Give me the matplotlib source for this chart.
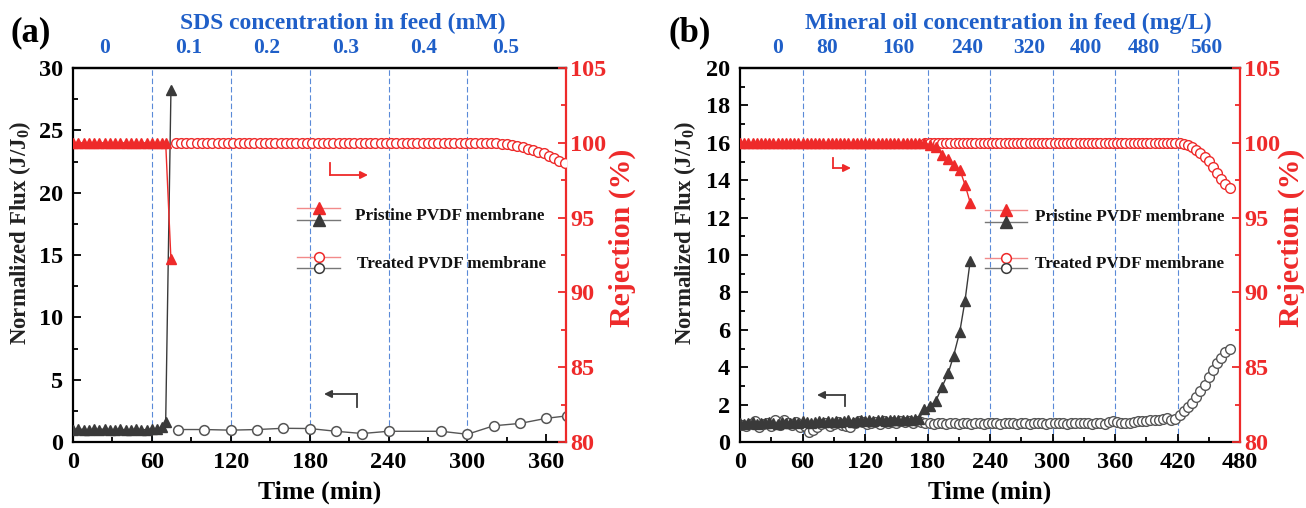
import numpy as np
import matplotlib
matplotlib.use('Agg')
import matplotlib.pyplot as plt
from matplotlib.lines import Line2D
from matplotlib.patches import FancyArrowPatch
from matplotlib.ticker import MultipleLocator

plt.rcParams['font.family'] = ['Liberation Serif', 'DejaVu Serif']
plt.rcParams['font.weight'] = 'bold'
plt.rcParams['mathtext.fontset'] = 'custom'
plt.rcParams['mathtext.rm'] = 'Liberation Serif:bold'
plt.rcParams['mathtext.bf'] = 'Liberation Serif:bold'
plt.rcParams['mathtext.it'] = 'Liberation Serif:bold'

# ---------------- data : panel (a) SDS ----------------
a_pristine_time = [0, 4, 8, 12, 16, 20, 24, 28, 32, 36, 40, 44, 48, 52, 56, 60, 64, 68, 70.5, 74.5]
a_pristine_flux = [1.0, 1.05, 1.0, 0.97, 1.02, 1.0, 1.04, 0.98, 1.0, 1.03, 0.97, 1.0, 1.02, 0.98, 1.0,
                   1.03, 1.05, 1.2, 1.6, 28.2]
a_pristine_rej = [100, 100, 100, 100, 100, 100, 100, 100, 100, 100, 100, 100, 100, 100, 100,
                  100, 100, 100, 100, 92.2]
a_treated_flux_time = [80, 100, 120, 140, 160, 180, 200, 220, 240, 280, 300, 320, 340, 360, 376]
a_treated_flux = [1.0, 1.0, 0.95, 1.0, 1.1, 1.08, 0.86, 0.68, 0.86, 0.86, 0.62, 1.3, 1.49, 1.9, 2.1]
a_treated_rej_time = np.arange(78, 375, 4)
a_treated_rej = [100, 100, 100, 100, 100, 100, 100, 100, 100, 100,
                 100, 100, 100, 100, 100, 100, 100, 100, 100, 100,
                 100, 100, 100, 100, 100, 100, 100, 100, 100, 100,
                 100, 100, 100, 100, 100, 100, 100, 100, 100, 100,
                 100, 100, 100, 100, 100, 100, 100, 100, 100, 100,
                 100, 100, 100, 100, 100, 100, 100, 100, 100, 100, 100,
                 100.0, 99.95, 99.9, 99.85, 99.8, 99.7, 99.6, 99.5, 99.4, 99.3, 99.15, 99.0, 98.8, 98.65]
a_top_labels = ['0', '0.1', '0.2', '0.3', '0.4', '0.5']
a_top_pos = [24, 88, 147, 207, 267, 329]
a_dash_lines = [60, 120, 180, 240, 300]
a_xticks = [0, 60, 120, 180, 240, 300, 360]

# ---------------- data : panel (b) mineral oil ----------------
b_pristine_time = [0, 4, 8, 12, 16, 20, 24, 28, 32, 36, 40, 44, 48, 52, 56, 60, 64, 68, 72, 76,
                   80, 84, 88, 92, 96, 100, 104, 108, 112, 116, 120, 124, 128, 132, 136, 140, 144,
                   148, 152, 156, 160, 164, 168, 172,
                   177, 182, 188, 194, 200, 205, 211, 216, 221]
b_pristine_flux = [1.0, 0.95, 1.0, 1.05, 0.95, 1.0, 1.0, 1.05, 1.0, 0.95, 1.05, 1.0, 1.0, 1.05, 1.0,
                   1.1, 1.05, 1.0, 1.05, 1.1, 1.05, 1.1, 1.05, 1.1, 1.05, 1.1, 1.15, 1.05, 1.1, 1.15,
                   1.1, 1.2, 1.1, 1.15, 1.2, 1.1, 1.2, 1.15, 1.2, 1.15, 1.2, 1.2, 1.25, 1.25,
                   1.75, 1.9, 2.2, 2.95, 3.7, 4.6, 5.9, 7.55, 9.7]
b_pristine_rej = [100, 100, 100, 100, 100, 100, 100, 100, 100, 100, 100, 100, 100, 100, 100,
                  100, 100, 100, 100, 100, 100, 100, 100, 100, 100, 100, 100, 100, 100, 100,
                  100, 100, 100, 100, 100, 100, 100, 100, 100, 100, 100, 100, 100, 100,
                  100, 99.85, 99.7, 99.2, 98.9, 98.5, 98.2, 97.2, 96.0]
b_treated_flux_time = np.arange(2, 471, 4)
b_treated_flux = [0.9, 0.85, 0.95, 1.1, 0.8, 0.95, 1.0, 0.85, 1.15, 0.9,
                  1.2, 1.0, 0.9, 1.05, 0.8, 0.85, 0.55, 0.65, 0.8, 0.95,
                  1.0, 0.85, 0.95, 1.05, 0.9, 0.85, 0.8, 1.0, 1.1, 1.05,
                  0.95, 1.0, 1.05, 0.95, 1.1, 1.0, 1.05, 1.0, 1.1, 1.05,
                  1.1, 1.0, 1.1,
                  1.05, 1.0, 1.0, 0.98, 1.0, 1.02, 0.98, 1.0, 1.0, 0.97,
                  1.0, 1.02, 0.98, 1.0, 1.0, 0.97, 1.0, 1.02, 1.0, 0.98,
                  1.0, 1.0, 1.02, 0.98, 1.0, 1.0, 0.97, 1.0, 1.02, 1.0,
                  0.98, 1.0, 1.0, 1.03, 1.0, 0.98, 1.0, 1.0, 1.02, 1.0,
                  1.0, 0.98, 1.0, 1.02,
                  0.98, 1.05, 1.12, 1.05, 1.0, 1.02, 1.0, 1.05, 1.1, 1.12,
                  1.1, 1.15, 1.2,
                  1.15, 1.25, 1.3, 1.15, 1.25, 1.45, 1.65, 1.85, 2.1, 2.4,
                  2.75, 3.05, 3.45, 3.85, 4.2, 4.5, 4.8, 5.0]
b_treated_rej_time = np.arange(178, 471, 4)
b_treated_rej = [100, 100, 100, 100, 100, 100, 100, 100, 100, 100,
                 100, 100, 100, 100, 100, 100, 100, 100, 100, 100,
                 100, 100, 100, 100, 100, 100, 100, 100, 100, 100,
                 100, 100, 100, 100, 100, 100, 100, 100, 100, 100,
                 100, 100, 100, 100, 100, 100, 100, 100, 100, 100,
                 100, 100, 100, 100, 100, 100, 100, 100, 100, 100, 100,
                 100, 99.95, 99.85, 99.75, 99.55, 99.35, 99.05, 98.75, 98.35, 97.95, 97.55, 97.25, 97.0]
b_top_labels = ['0', '80', '160', '240', '320', '400', '480', '560']
b_top_pos = [36, 84, 152, 218, 278, 332, 388, 448]
b_dash_lines = [60, 120, 180, 240, 300, 360, 420]
b_xticks = [0, 60, 120, 180, 240, 300, 360, 420, 480]

# ---------------- styling ----------------
W, H = 1306, 508
RED = '#ee2a2a'
RED_LIGHT = '#f28a8a'
BLUE = '#1f5fc8'
DASH = '#5a8ad8'
DARK = '#3a3a3a'
GREY = '#555555'
GREY_LIGHT = '#777777'

fig = plt.figure(figsize=(W / 100, H / 100), dpi=100)


def fx(x):
    return x / W


def fy(y):
    return 1 - y / H


def setup_panel(rect, xlim, xticks, ylim_left, left_major, left_minor, dash_lines,
                top_pos, top_labels, title, title_x, panel_label, label_x, ylab_x, rej_x):
    ax = fig.add_axes(rect)
    ax2 = ax.twinx()
    ax.set_xlim(*xlim)
    ax.set_ylim(*ylim_left)
    ax2.set_ylim(80, 105)
    ax.set_xticks(xticks)
    ax.xaxis.set_minor_locator(MultipleLocator(30))
    ax.yaxis.set_major_locator(MultipleLocator(left_major))
    ax.yaxis.set_minor_locator(MultipleLocator(left_minor))
    ax2.yaxis.set_major_locator(MultipleLocator(5))
    ax2.yaxis.set_minor_locator(MultipleLocator(2.5))
    for s in ['left', 'bottom', 'top']:
        ax.spines[s].set_color('black')
        ax.spines[s].set_linewidth(1.6)
    ax.spines['right'].set_visible(False)
    for s in ['left', 'bottom', 'top']:
        ax2.spines[s].set_visible(False)
    ax2.spines['right'].set_color(RED)
    ax2.spines['right'].set_linewidth(1.6)
    ax.tick_params(which='both', direction='in', top=False, right=False,
                   labelsize=17.5, width=1.3, pad=7, colors='black')
    ax.tick_params(which='major', length=6)
    ax.tick_params(which='minor', length=3.5)
    ax2.tick_params(which='both', direction='in', colors=RED, labelsize=17.5, width=1.3, pad=3)
    ax2.tick_params(which='major', length=6)
    ax2.tick_params(which='minor', length=3.5)
    for lab in ax.get_xticklabels() + ax.get_yticklabels() + ax2.get_yticklabels():
        lab.set_fontweight('bold')
    for xv in dash_lines:
        ax.axvline(xv, color=DASH, lw=0.8, ls=(0, (5, 2.5)), zorder=1)
    sec = ax.secondary_xaxis('top')
    sec.set_xticks(top_pos)
    sec.set_xticklabels(top_labels)
    sec.tick_params(length=0, colors=BLUE, labelsize=15.5, pad=7)
    sec.spines['top'].set_linewidth(1.6)
    for lab in sec.get_xticklabels():
        lab.set_fontweight('bold')
        lab.set_color(BLUE)
    ax.set_xlabel('Time (min)', fontsize=18.5, fontweight='bold', labelpad=6)
    ax.set_ylabel(r'Normalized Flux (J/J$_{\mathrm{0}}$)', fontsize=16.5, fontweight='bold',
                  color='#222222')
    ax.yaxis.set_label_coords(ylab_x, 0.56)
    ax2.set_ylabel('Rejection (%)', fontsize=21.5, fontweight='bold', color=RED, rotation=90)
    ax2.yaxis.set_label_coords(rej_x, 0.545)
    fig.text(fx(title_x), fy(23), title, color=BLUE, fontsize=17, fontweight='bold',
             ha='center', va='center')
    fig.text(fx(label_x), fy(33), panel_label, color='black', fontsize=25, fontweight='bold',
             ha='left', va='center')
    return ax, ax2


def stacked_legend(x0, x1, y_red, y_blk, tx, ty, marker, filled, label):
    xm = (x0 + x1) / 2
    for y, lc, mc in ((y_red, RED_LIGHT, RED), (y_blk, GREY_LIGHT, DARK)):
        fig.add_artist(Line2D([fx(x0), fx(x1)], [fy(y), fy(y)], color=lc, lw=1.0,
                              transform=fig.transFigure))
        if filled:
            fig.add_artist(Line2D([fx(xm)], [fy(y)], marker=marker, ms=8, color=mc, mec=mc,
                                  ls='none', transform=fig.transFigure))
        else:
            fig.add_artist(Line2D([fx(xm)], [fy(y)], marker=marker, ms=7, mfc='white', mec=mc,
                                  mew=1.1, ls='none', transform=fig.transFigure))
    fig.text(fx(tx), fy(ty), label, fontsize=12.3, fontweight='bold', ha='left', va='center',
             color='#111111')


def bent_arrow(xv, y_start, y_corner, x_end, color):
    fig.add_artist(Line2D([fx(xv), fx(xv)], [fy(y_start), fy(y_corner)], color=color, lw=1.3,
                          transform=fig.transFigure))
    fig.add_artist(FancyArrowPatch((fx(xv), fy(y_corner)), (fx(x_end), fy(y_corner)),
                                   transform=fig.transFigure, arrowstyle='-|>',
                                   mutation_scale=11, color=color, lw=1.3,
                                   shrinkA=0, shrinkB=0))


# ---------------- panel (a) ----------------
axa, axa2 = setup_panel([fx(73), fy(442), 493 / W, 374 / H], (0, 375), a_xticks, (0, 30), 5, 2.5,
                        a_dash_lines, a_top_pos, a_top_labels,
                        'SDS concentration in feed (mM)', 343, '(a)', 10, -0.081, 1.087)
axa.plot(a_treated_flux_time, a_treated_flux, color=GREY, lw=1.0, marker='o', ms=7,
         mfc='white', mec=GREY, mew=1.1, zorder=3)
axa.plot(a_pristine_time, a_pristine_flux, color=DARK, lw=1.0, marker='^', ms=7.5,
         mfc=DARK, mec=DARK, zorder=4)
axa2.plot(a_treated_rej_time, a_treated_rej, color=RED_LIGHT, lw=0.8, marker='o', ms=7,
          mfc='white', mec=RED, mew=1.0, zorder=3)
axa2.plot(a_pristine_time, a_pristine_rej, color=RED, lw=1.0, marker='^', ms=7.5,
          mfc=RED, mec=RED, zorder=4)

stacked_legend(297, 340, 208, 220, 355, 216, '^', True, 'Pristine PVDF membrane')
stacked_legend(297, 340, 257, 268, 357, 264, 'o', False, 'Treated PVDF membrane')
bent_arrow(330, 163, 175, 368, RED)
bent_arrow(357, 407, 394, 324, DARK)

# ---------------- panel (b) ----------------
axb, axb2 = setup_panel([fx(740), fy(442), 500 / W, 374 / H], (0, 480), b_xticks, (0, 20), 2, 1,
                        b_dash_lines, b_top_pos, b_top_labels,
                        'Mineral oil concentration in feed (mg/L)', 1008, '(b)', 668, -0.084, 1.076)
axb.plot(b_treated_flux_time, b_treated_flux, color=GREY, lw=0.8, marker='o', ms=7,
         mfc='white', mec=GREY, mew=1.0, zorder=3)
axb.plot(b_pristine_time, b_pristine_flux, color=DARK, lw=1.0, marker='^', ms=7.5,
         mfc=DARK, mec=DARK, zorder=4)
axb2.plot(b_treated_rej_time, b_treated_rej, color=RED_LIGHT, lw=0.8, marker='o', ms=7,
          mfc='white', mec=RED, mew=1.0, zorder=3)
axb2.plot(b_pristine_time, b_pristine_rej, color=RED, lw=1.0, marker='^', ms=7.5,
          mfc=RED, mec=RED, zorder=4)

stacked_legend(985, 1027, 210, 222, 1035, 217, '^', True, 'Pristine PVDF membrane')
stacked_legend(985, 1027, 258, 268, 1035, 264, 'o', False, 'Treated PVDF membrane')
bent_arrow(833, 158, 168, 851, RED)
bent_arrow(845, 406, 395, 817, DARK)

fig.savefig('out.png', dpi=100)
